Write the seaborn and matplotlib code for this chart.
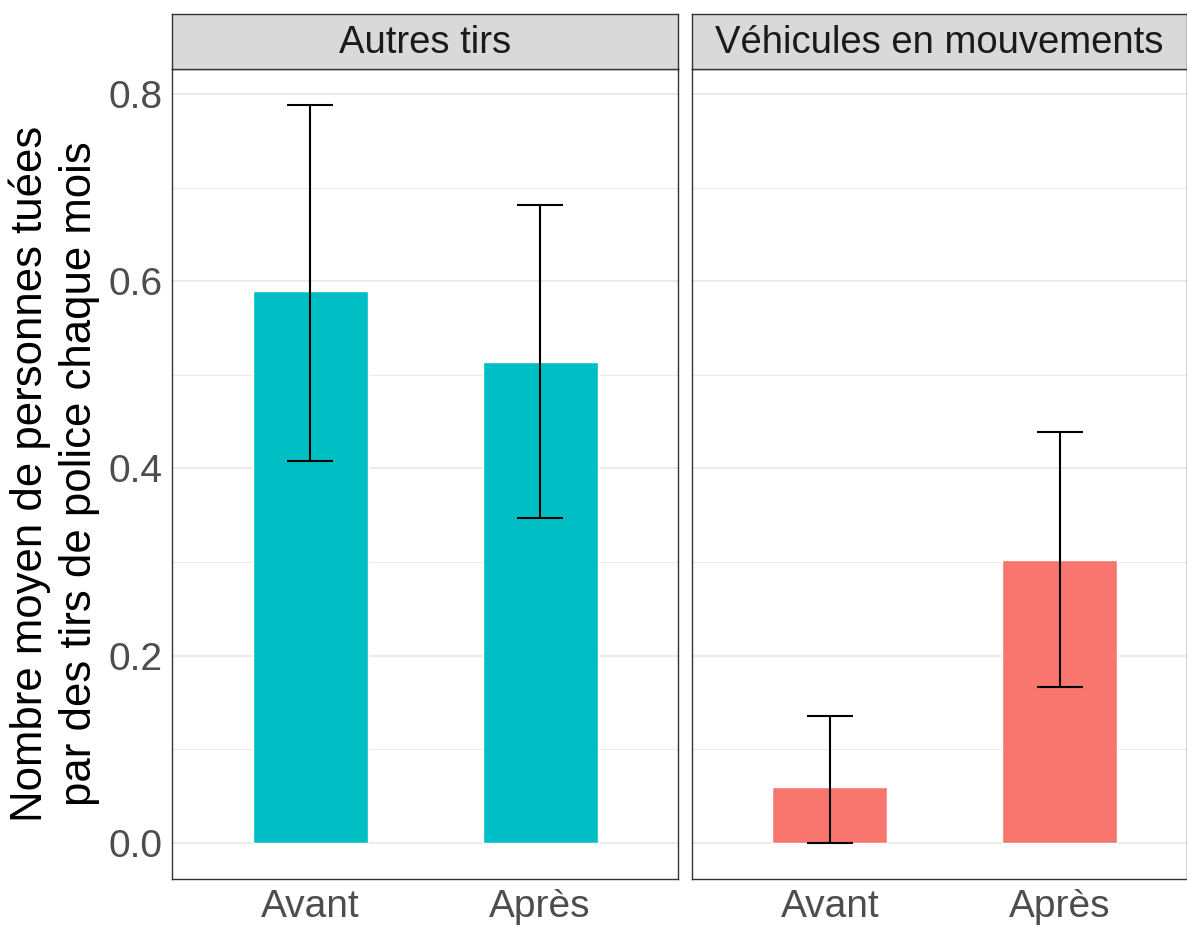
import numpy as np
import pandas as pd
import matplotlib
matplotlib.use("Agg")
import matplotlib.pyplot as plt
import seaborn as sns

categories = ["Avant", "Après"]
panels = ["Autres tirs", "Véhicules en mouvements"]

autres_mean = [0.590, 0.514]
autres_low = [0.408, 0.347]
autres_high = [0.788, 0.681]

vehic_mean = [0.060, 0.302]
vehic_low = [0.000, 0.167]
vehic_high = [0.136, 0.439]

colors = ["#00BFC4", "#F8766D"]

sns.set_style("white")
plt.rcParams['font.family'] = ['Liberation Sans', 'DejaVu Sans']

W, H = 1187, 926
fig = plt.figure(figsize=(W / 100, H / 100), dpi=100)

def px_axes(x0, y0, x1, y1):
    return fig.add_axes([x0 / W, 1 - y1 / H, (x1 - x0) / W, (y1 - y0) / H])

ax1 = px_axes(172, 69, 678, 879)
ax2 = px_axes(692, 69, 1187, 879)
s1 = px_axes(172, 14, 678, 69)
s2 = px_axes(692, 14, 1187, 69)

data = [(autres_mean, autres_low, autres_high), (vehic_mean, vehic_low, vehic_high)]

for i, (ax, (m, lo, hi)) in enumerate(zip([ax1, ax2], data)):
    df = pd.DataFrame({"periode": categories, "valeur": m})
    sns.barplot(data=df, x="periode", y="valeur", color=colors[i], width=0.5,
                saturation=1, errorbar=None, ax=ax, zorder=2)
    m = np.array(m); lo = np.array(lo); hi = np.array(hi)
    ax.errorbar(x=[0, 1], y=m, yerr=[m - lo, hi - m], fmt="none", ecolor="black",
                elinewidth=1.5, capsize=16.5, capthick=1.5, zorder=3)
    ax.set_ylim(-0.0385, 0.8267)
    ax.set_yticks([0, 0.2, 0.4, 0.6, 0.8])
    ax.set_yticks([0.1, 0.3, 0.5, 0.7], minor=True)
    ax.grid(True, which="major", axis="y", color="#EBEBEB", linewidth=1.4, zorder=0)
    ax.grid(True, which="minor", axis="y", color="#EBEBEB", linewidth=0.7, zorder=0)
    ax.set_axisbelow(True)
    ax.set_xlabel("")
    ax.set_ylabel("")
    for sp in ax.spines.values():
        sp.set_color("#333333")
        sp.set_linewidth(1.0)
    ax.tick_params(axis="both", which="major", colors="#333333", labelcolor="#4D4D4D",
                   labelsize=28, length=4, width=1.0, direction="out", pad=3)
    ax.tick_params(axis="y", which="minor", length=0)

ax1.set_xlim(-0.6, 1.6)
ax2.set_xlim(-0.6, 1.555)
ax1.set_yticklabels(["0.0", "0.2", "0.4", "0.6", "0.8"])
ax2.tick_params(axis="y", which="both", left=False, labelleft=False)

ax1.set_ylabel("Nombre moyen de personnes tuées\npar des tirs de police chaque mois",
               fontsize=31.5, color="black", labelpad=6, linespacing=1.25)

for s, name in zip([s1, s2], panels):
    s.set_facecolor("#D9D9D9")
    s.set_xticks([])
    s.set_yticks([])
    for sp in s.spines.values():
        sp.set_color("#333333")
        sp.set_linewidth(1.0)
    s.text(0.5, 0.47, name, ha="center", va="center", fontsize=27.5, color="#1A1A1A",
           transform=s.transAxes)

fig.savefig("out.png", dpi=100, facecolor="white")
